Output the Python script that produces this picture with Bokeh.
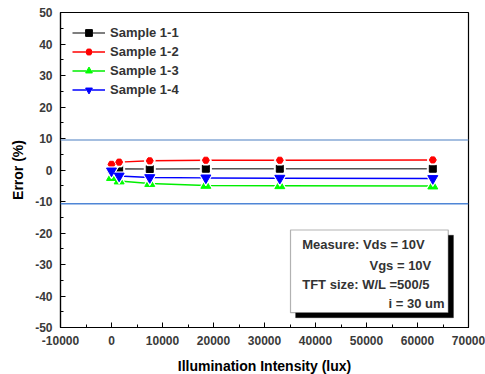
from bokeh.plotting import figure
from bokeh.models import (Range1d, SingleIntervalTicker, Span, BoxAnnotation, Label, Legend,
                          NumeralTickFormatter)
from bokeh.embed import file_html
from bokeh.resources import INLINE

# ---- data ----
lux = [0, 1500, 7500, 18500, 33000, 63000]
sample_1_1 = [0.2, 0.4, 0.3, 0.4, 0.4, 0.4]
sample_1_2 = [1.8, 2.5, 2.9, 3.1, 3.1, 3.2]
sample_1_3 = [-2.4, -3.5, -4.3, -4.9, -5.0, -5.1]
sample_1_4 = [-0.3, -1.9, -2.4, -2.5, -2.6, -2.7]
series_names = ["Sample 1-1", "Sample 1-2", "Sample 1-3", "Sample 1-4"]
upper_limit = 9.5
lower_limit = -10.7
info_lines = ["Measure: Vds = 10V", "Vgs = 10V", "TFT size: W/L =500/5", "i = 30 um"]

FONT = "Liberation Sans"

p = figure(frame_width=408, frame_height=315, output_backend="svg", toolbar_location=None,
           x_range=Range1d(-10000, 70000), y_range=Range1d(-50, 50),
           min_border_left=60, min_border_right=17, min_border_top=12, min_border_bottom=47)
p.background_fill_color = "white"
p.border_fill_color = "white"
p.outline_line_color = "black"
p.outline_line_width = 1.2
p.xgrid.visible = False
p.ygrid.visible = False

for ax in (p.xaxis[0], p.yaxis[0]):
    ax.axis_line_color = "black"
    ax.axis_line_width = 1.2
    ax.major_tick_in = 5
    ax.major_tick_out = 0
    ax.minor_tick_in = 3
    ax.minor_tick_out = 0
    ax.major_tick_line_color = "black"
    ax.minor_tick_line_color = "black"
    ax.major_label_text_font = FONT
    ax.major_label_text_font_size = "12px"
    ax.major_label_text_font_style = "bold"
    ax.major_label_text_color = "#3a3a3a"
    ax.major_label_standoff = 8
    ax.axis_label_text_font = FONT
    ax.axis_label_text_font_size = "14px"
    ax.axis_label_text_font_style = "bold"
    ax.axis_label_text_color = "black"
    ax.axis_label_standoff = 10
    ax.formatter = NumeralTickFormatter(format="0")

p.yaxis.axis_label_standoff = 6
p.xaxis.ticker = SingleIntervalTicker(interval=10000, num_minor_ticks=2)
p.yaxis.ticker = SingleIntervalTicker(interval=10, num_minor_ticks=2)
p.xaxis.axis_label = "Illumination Intensity (lux)"
p.yaxis.axis_label = "Error (%)"

p.add_layout(Span(location=upper_limit, dimension="width", line_color="#86a9d6", line_width=1.5))
p.add_layout(Span(location=lower_limit, dimension="width", line_color="#4f86d6", line_width=1.5))

styles = [
    (sample_1_1, "#555555", "black", "square", 7),
    (sample_1_2, "#ff0000", "#ff0000", "hex", 7),
    (sample_1_3, "#00ee00", "#00ff00", "triangle", 10),
    (sample_1_4, "#0000ff", "#0000ff", "inverted_triangle", 10),
]
items = []
for name, (ys, lc, mc, mk, sz) in zip(series_names, styles):
    r1 = p.line(lux, ys, line_color=lc, line_width=1.5)
    r2 = p.scatter(lux, ys, marker=mk, size=sz + 4, fill_color="white", line_color="white")
    r3 = p.scatter(lux, ys, marker=mk, size=sz, fill_color=mc, line_color=mc)
    items.append((name, [r1, r2, r3]))

legend = Legend(items=items, location="top_left")
legend.border_line_color = None
legend.background_fill_alpha = 0
legend.margin = 12
legend.padding = 9
legend.spacing = 2
legend.glyph_width = 33
legend.glyph_height = 17
legend.label_height = 17
legend.label_standoff = 5
legend.label_text_font = FONT
legend.label_text_font_size = "13px"
legend.label_text_font_style = "bold"
legend.label_text_color = "#333333"
p.add_layout(legend, "center")

# info box with drop shadow
p.add_layout(BoxAnnotation(left=36100, right=67050, top=-20.7, bottom=-46.9,
                           fill_color="black", fill_alpha=1, line_color="black"))
p.add_layout(BoxAnnotation(left=35100, right=66030, top=-19.05, bottom=-45.3,
                           fill_color="white", fill_alpha=1, line_color="black", line_width=1.2))
info_pos = [(37400, -23.8, "left"), (62700, -30.2, "right"),
            (37400, -36.3, "left"), (65300, -42.3, "right")]
for txt, (x, y, al) in zip(info_lines, info_pos):
    p.add_layout(Label(x=x, y=y, text=txt, text_align=al, text_baseline="middle",
                       text_font=FONT, text_font_size="13px", text_font_style="bold",
                       text_color="#333333"))

open("out.html", "w").write(file_html(p, INLINE))
